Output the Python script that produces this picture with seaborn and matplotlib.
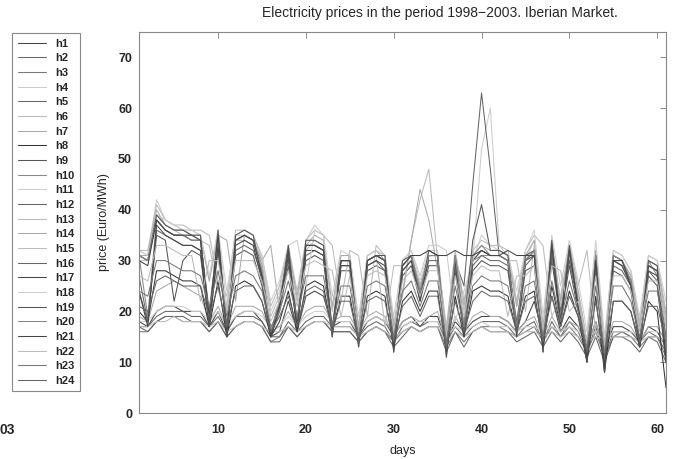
import pandas as pd
import matplotlib
matplotlib.use("Agg")
import matplotlib.pyplot as plt
import seaborn as sns


days = list(range(1, 62))
hours = [f"h{i}" for i in range(1, 25)]

# daily prices per hour (Euro/MWh)
h1 = [18, 17, 20, 21, 21, 20, 20, 20, 17, 20,
      16, 19, 20, 20, 18, 15, 16, 22, 16, 23,
      24, 23, 17, 18, 18, 15, 18, 19, 18, 15,
      18, 19, 17, 19, 19, 14, 18, 16, 18, 19,
      19, 19, 18, 16, 18, 22, 15, 23, 16, 19,
      17, 13, 18, 12, 17, 17, 16, 14, 17, 16,
      13]
h2 = [17, 17, 19, 20, 20, 20, 19, 19, 17, 19,
      16, 19, 19, 19, 18, 15, 15, 18, 16, 18,
      19, 19, 17, 17, 17, 15, 17, 18, 17, 14,
      17, 18, 17, 18, 18, 14, 17, 15, 17, 18,
      18, 18, 17, 15, 17, 18, 14, 18, 15, 18,
      16, 12, 17, 11, 16, 16, 15, 14, 16, 15,
      12]
h3 = [16, 16, 18, 19, 19, 18, 18, 18, 16, 18,
      15, 17, 18, 18, 17, 14, 15, 17, 15, 17,
      18, 18, 16, 16, 16, 14, 16, 17, 16, 14,
      16, 17, 16, 17, 17, 13, 16, 14, 16, 17,
      17, 17, 16, 15, 16, 17, 14, 17, 15, 17,
      15, 12, 16, 11, 15, 16, 15, 13, 15, 15,
      11]
h4 = [18, 18, 20, 21, 21, 21, 20, 20, 18, 20,
      17, 19, 20, 20, 19, 17, 17, 19, 17, 19,
      20, 20, 18, 18, 18, 16, 18, 19, 18, 16,
      17, 18, 18, 18, 18, 15, 17, 16, 17, 18,
      17, 17, 17, 16, 17, 17, 16, 17, 16, 17,
      16, 15, 16, 14, 16, 16, 16, 15, 16, 16,
      15]
h5 = [17, 16, 18, 19, 19, 19, 18, 18, 16, 18,
      15, 17, 18, 18, 17, 14, 14, 17, 15, 17,
      18, 18, 16, 16, 16, 14, 16, 17, 16, 13,
      15, 17, 16, 17, 17, 12, 16, 13, 16, 17,
      16, 16, 16, 14, 15, 16, 13, 16, 14, 16,
      14, 11, 15, 10, 15, 15, 14, 12, 15, 14,
      10]
h6 = [17, 17, 18, 18, 19, 18, 18, 18, 17, 18,
      16, 17, 18, 18, 17, 16, 16, 17, 16, 17,
      18, 18, 17, 17, 17, 15, 16, 17, 16, 15,
      16, 17, 16, 17, 17, 14, 16, 15, 16, 17,
      16, 16, 16, 15, 16, 16, 15, 16, 15, 16,
      15, 14, 15, 14, 15, 15, 15, 14, 15, 15,
      14]
h7 = [19, 18, 24, 25, 26, 25, 24, 23, 18, 21,
      17, 21, 21, 21, 20, 16, 17, 20, 17, 20,
      21, 21, 18, 19, 19, 16, 19, 20, 19, 15,
      18, 19, 18, 19, 20, 14, 19, 16, 19, 20,
      19, 19, 18, 16, 18, 19, 15, 19, 16, 18,
      17, 13, 18, 12, 18, 18, 17, 14, 17, 17,
      14]
h8 = [20, 18, 28, 28, 27, 26, 26, 25, 17, 26,
      15, 25, 26, 25, 22, 15, 18, 24, 16, 25,
      26, 25, 16, 23, 23, 14, 23, 24, 23, 13,
      22, 24, 20, 24, 24, 12, 23, 15, 24, 25,
      24, 24, 23, 16, 23, 24, 13, 25, 17, 24,
      19, 10, 23, 8, 22, 22, 20, 13, 22, 20,
      5]
h9 = [24, 18, 35, 34, 22, 30, 32, 31, 17, 32,
      16, 31, 32, 31, 25, 15, 20, 29, 17, 30,
      31, 30, 16, 28, 28, 14, 28, 29, 28, 13,
      27, 29, 22, 29, 29, 12, 28, 15, 28, 30,
      29, 29, 28, 16, 28, 29, 13, 30, 18, 29,
      20, 11, 28, 9, 28, 27, 24, 13, 27, 25,
      10]
h10 = [31, 19, 38, 36, 35, 35, 34, 34, 18, 34,
       16, 34, 35, 34, 28, 15, 22, 32, 17, 33,
       33, 32, 16, 30, 30, 14, 30, 31, 30, 14,
       29, 31, 24, 31, 31, 12, 30, 16, 30, 31,
       31, 31, 30, 16, 30, 32, 13, 33, 19, 31,
       22, 11, 31, 9, 30, 29, 26, 14, 30, 27,
       13]
h11 = [32, 31, 42, 38, 37, 36, 36, 35, 26, 36,
       21, 35, 36, 35, 30, 20, 24, 33, 22, 34,
       37, 35, 21, 31, 31, 17, 31, 32, 31, 17,
       30, 32, 26, 32, 32, 16, 31, 22, 30, 52,
       60, 33, 31, 21, 30, 34, 16, 34, 22, 33,
       24, 14, 32, 13, 31, 30, 27, 17, 30, 29,
       17]
h12 = [31, 30, 38, 36, 35, 35, 34, 34, 20, 35,
       17, 34, 35, 34, 29, 16, 22, 32, 18, 33,
       33, 32, 17, 30, 30, 15, 30, 31, 30, 14,
       29, 31, 25, 31, 31, 13, 30, 25, 45, 63,
       48, 31, 30, 18, 30, 32, 14, 33, 20, 31,
       22, 12, 31, 10, 30, 29, 26, 14, 29, 28,
       15]
h13 = [32, 32, 41, 38, 37, 37, 36, 36, 35, 26,
       23, 36, 36, 35, 31, 21, 25, 33, 24, 34,
       36, 35, 33, 22, 32, 31, 19, 33, 31, 18,
       24, 34, 42, 48, 30, 17, 32, 22, 32, 34,
       33, 33, 32, 22, 32, 35, 33, 19, 23, 33,
       25, 32, 16, 14, 32, 31, 28, 18, 31, 30,
       20]
h14 = [31, 31, 40, 37, 36, 36, 35, 35, 26, 35,
       34, 22, 35, 34, 30, 33, 20, 32, 23, 33,
       35, 34, 21, 31, 31, 17, 31, 32, 30, 17,
       23, 34, 44, 38, 28, 16, 31, 21, 31, 33,
       32, 32, 31, 21, 31, 34, 17, 33, 22, 32,
       24, 14, 32, 13, 31, 30, 27, 17, 30, 29,
       19]
h15 = [30, 30, 39, 37, 36, 35, 35, 34, 33, 24,
       21, 34, 34, 33, 29, 19, 23, 31, 22, 32,
       34, 33, 20, 30, 30, 16, 30, 31, 17, 29,
       29, 31, 25, 31, 31, 15, 30, 20, 30, 32,
       31, 31, 30, 30, 20, 33, 16, 32, 21, 31,
       23, 14, 31, 12, 30, 29, 26, 16, 29, 28,
       18]
h16 = [27, 18, 36, 35, 34, 33, 33, 32, 18, 33,
       16, 32, 33, 32, 27, 15, 21, 30, 17, 31,
       32, 31, 16, 29, 29, 14, 29, 30, 28, 13,
       28, 30, 23, 30, 30, 12, 29, 16, 29, 31,
       30, 30, 29, 16, 29, 31, 13, 31, 19, 30,
       21, 11, 29, 9, 29, 28, 25, 14, 28, 26,
       12]
h17 = [24, 17, 37, 35, 34, 33, 33, 32, 17, 33,
       15, 33, 34, 33, 26, 15, 21, 31, 16, 32,
       32, 31, 15, 29, 29, 13, 29, 30, 29, 12,
       28, 30, 22, 31, 31, 11, 30, 15, 30, 32,
       31, 31, 30, 15, 30, 31, 12, 33, 17, 32,
       21, 10, 30, 8, 30, 29, 25, 13, 28, 27,
       10]
h18 = [32, 31, 39, 38, 37, 36, 36, 35, 27, 36,
       24, 35, 35, 34, 31, 22, 26, 33, 34, 25,
       36, 35, 23, 32, 31, 19, 31, 32, 31, 19,
       30, 32, 27, 33, 33, 32, 18, 24, 30, 35,
       33, 32, 31, 24, 32, 36, 19, 35, 25, 34,
       26, 16, 34, 15, 32, 31, 28, 19, 31, 30,
       22]
h19 = [31, 30, 39, 37, 36, 36, 35, 35, 17, 36,
       15, 35, 36, 35, 27, 15, 21, 33, 17, 34,
       34, 33, 15, 30, 30, 13, 30, 31, 31, 12,
       30, 31, 23, 32, 31, 11, 31, 17, 34, 41,
       32, 32, 31, 16, 31, 32, 12, 34, 18, 33,
       21, 10, 31, 8, 31, 30, 26, 13, 30, 29,
       10]
h20 = [31, 30, 38, 36, 35, 35, 34, 34, 19, 35,
       16, 34, 35, 34, 28, 16, 22, 32, 18, 33,
       33, 32, 16, 30, 30, 14, 30, 31, 30, 14,
       29, 31, 24, 31, 31, 13, 31, 17, 31, 33,
       31, 31, 30, 17, 30, 32, 14, 33, 19, 32,
       22, 12, 31, 10, 31, 30, 26, 14, 29, 28,
       12]
h21 = [30, 29, 38, 36, 35, 35, 35, 34, 19, 35,
       16, 34, 35, 34, 27, 15, 21, 32, 17, 33,
       33, 32, 16, 30, 30, 14, 30, 31, 30, 13,
       29, 31, 31, 32, 31, 31, 32, 31, 31, 32,
       31, 31, 32, 31, 31, 31, 13, 33, 18, 32,
       21, 11, 30, 9, 30, 30, 25, 14, 29, 28,
       11]
h22 = [27, 26, 33, 33, 32, 31, 31, 22, 30, 30,
       20, 30, 30, 30, 26, 18, 22, 28, 21, 29,
       30, 29, 28, 19, 27, 16, 27, 28, 27, 16,
       26, 28, 23, 28, 28, 15, 27, 19, 27, 29,
       28, 28, 19, 27, 27, 29, 16, 29, 28, 20,
       22, 14, 27, 13, 27, 27, 24, 16, 26, 26,
       17]
h23 = [24, 23, 30, 30, 29, 28, 28, 27, 21, 28,
       19, 27, 28, 27, 24, 17, 20, 26, 19, 27,
       27, 27, 17, 25, 25, 15, 25, 26, 25, 15,
       24, 26, 21, 26, 26, 14, 25, 17, 25, 27,
       26, 26, 25, 17, 25, 26, 15, 26, 18, 26,
       20, 13, 25, 12, 25, 25, 22, 15, 24, 24,
       15]
h24 = [21, 20, 26, 27, 26, 25, 25, 25, 19, 25,
       17, 24, 25, 25, 22, 16, 19, 23, 17, 24,
       25, 24, 16, 22, 22, 14, 22, 23, 22, 14,
       21, 23, 19, 23, 23, 13, 22, 16, 22, 24,
       23, 23, 22, 16, 22, 23, 14, 23, 17, 23,
       19, 12, 22, 11, 22, 22, 20, 14, 21, 21,
       14]

series = [h1, h2, h3, h4, h5, h6, h7, h8, h9, h10, h11, h12,
          h13, h14, h15, h16, h17, h18, h19, h20, h21, h22, h23, h24]

grays = ["#444444", "#666666", "#777777", "#cccccc", "#666666", "#bbbbbb",
         "#aaaaaa", "#333333", "#555555", "#888888", "#cccccc", "#666666",
         "#bbbbbb", "#aaaaaa", "#bbbbbb", "#666666", "#444444", "#cccccc",
         "#555555", "#888888", "#444444", "#bbbbbb", "#777777", "#666666"]

bad = [h for h, s in zip(hours, series) if len(s) != len(days)]
assert not bad, bad

df = pd.DataFrame(dict(zip(hours, series)), index=days)
long = df.reset_index(names="day").melt(id_vars="day", var_name="hour", value_name="price")

sns.set_theme(style="white")
plt.rcParams["font.family"] = ["Liberation Sans", "DejaVu Sans"]

fig = plt.figure(figsize=(6.84, 4.59), dpi=100)
ax = fig.add_axes([139 / 684, 1 - 413 / 459, 527 / 684, 381 / 459])

sns.lineplot(
    data=long, x="day", y="price", hue="hour",
    palette=dict(zip(hours, grays)),
    estimator=None, linewidth=0.75,
    legend=False, ax=ax
)

ax.set_xlim(1, 61)
ax.set_ylim(0, 75)
ax.set_xticks(range(10, 61, 10))
ax.set_yticks(range(0, 71, 10))
ax.tick_params(direction="in", top=True, right=True, length=4, width=0.6,
               color="#777777", labelsize=9)
ax.tick_params(axis="x", pad=8)
ax.tick_params(axis="y", pad=5)
for lbl in ax.get_xticklabels() + ax.get_yticklabels():
    lbl.set_fontweight("bold")
for sp in ax.spines.values():
    sp.set_color("#888888")
    sp.set_linewidth(0.8)

ax.set_xlabel("days", fontsize=9)
ax.set_ylabel("price (Euro/MWh)", fontsize=9)
ax.xaxis.set_label_coords(0.5, -0.083)
ax.yaxis.set_label_coords(-0.055, 0.5)

fig.text(440 / 684, 1 - 13 / 459, "Electricity prices in the period 1998\u22122003. Iberian Market.",
         ha="center", va="center", fontsize=10)

leg = fig.legend(
    ax.get_lines()[:24], hours,
    loc="upper left", bbox_to_anchor=(12 / 684, 1 - 33 / 459),
    borderaxespad=0, prop={"weight": "bold", "size": 8},
    handlelength=2.6, handletextpad=0.8, labelspacing=0.42,
    borderpad=0.5, fancybox=False, framealpha=1
)
leg.get_frame().set_edgecolor("#888888")
leg.get_frame().set_linewidth(0.8)

fig.text(0.0, 1 - 430 / 459, "03", ha="left", va="center", fontsize=10, fontweight="bold")

fig.savefig("out.png", dpi=100)
